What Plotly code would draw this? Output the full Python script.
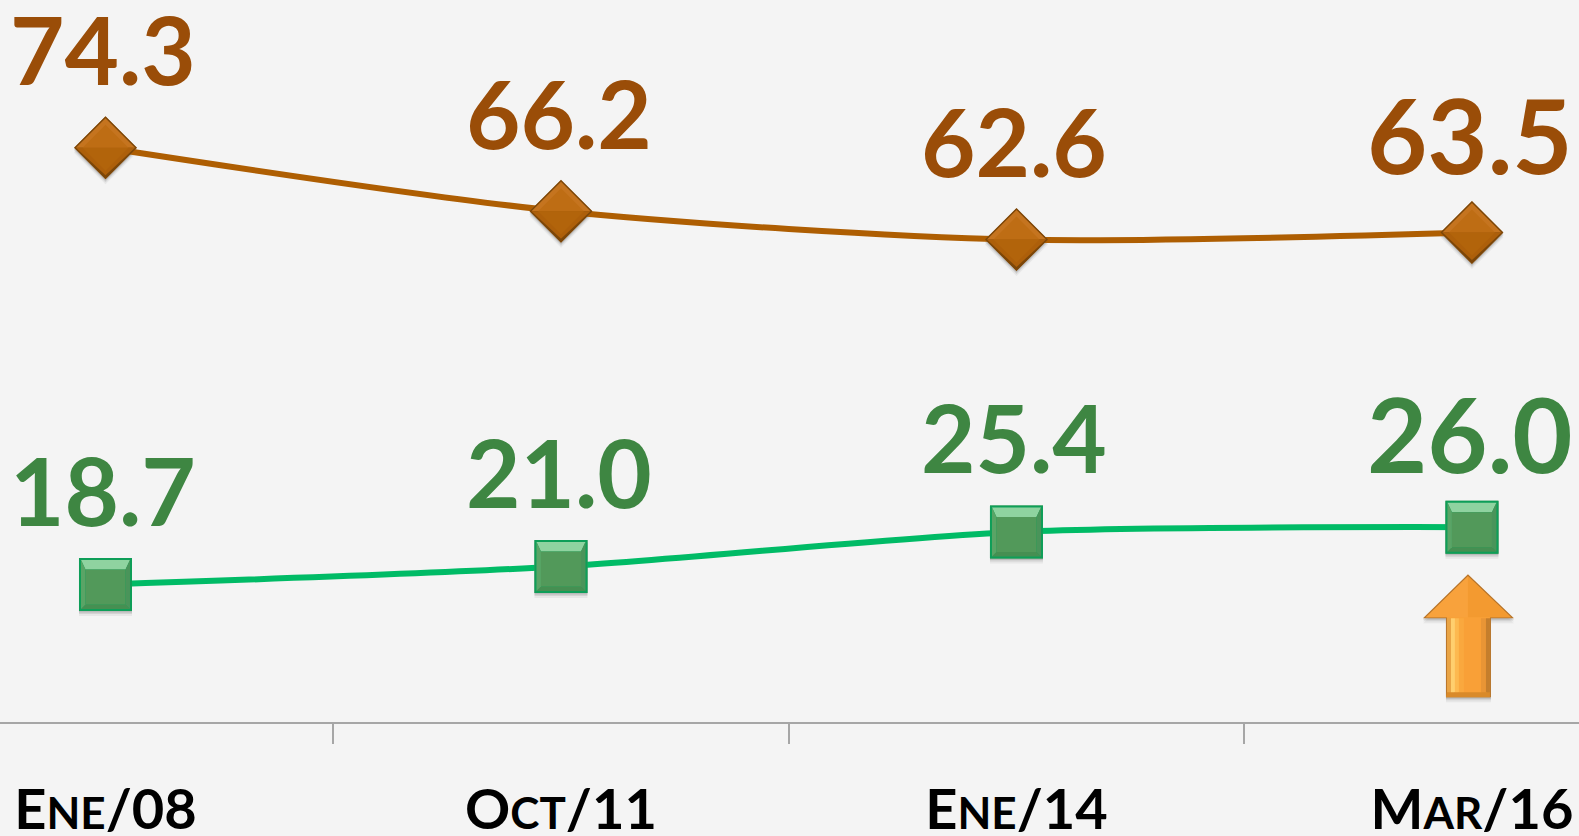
import plotly.graph_objects as go

categories = [("E", "NE", "/08"), ("O", "CT", "/11"), ("E", "NE", "/14"), ("M", "AR", "/16")]
x_index = [0, 1, 2, 3]
brown_values = [74.3, 66.2, 62.6, 63.5]
green_values = [18.7, 21.0, 25.4, 26.0]
label_sizes = [94, 94, 94, 104]
minor_ticks = [0.5, 1.5, 2.5]

BG = "#F4F4F4"
FONT = "Lato"
BROWN_LINE, BROWN_TEXT = "#AE5E02", "#9A4D08"
GREEN_LINE, GREEN_TEXT = "#00BB66", "#3E8642"


def poly(pts):
    return "M" + " L".join(f"{a},{b}" for a, b in pts) + " Z"


def pshape(x, y, pts, fill, layer="above"):
    return dict(type="path", xref="x", yref="y", xsizemode="pixel", ysizemode="pixel",
                xanchor=x, yanchor=y, path=poly(pts), fillcolor=fill,
                line=dict(width=0), layer=layer)


shapes = []
for x, y in zip(x_index, brown_values):
    r, i = 31.5, 23
    for d, a in ((5, 0.08), (3, 0.14), (1.5, 0.2)):
        shapes.append(pshape(x, y, [(-r, -d), (0, r - d), (r, -d), (0, -r - d)], f"rgba(90,90,90,{a})", "below"))
    shapes.append(pshape(x, y, [(-r, 0), (0, r), (r, 0), (0, -r)], "#7C4608"))
    shapes.append(pshape(x, y, [(-r + 2, 0), (0, r - 2), (r - 2, 0)], "#C5741F"))
    shapes.append(pshape(x, y, [(-r + 2, 0), (0, -r + 4), (r - 2, 0)], "#AD5F0A"))
    shapes.append(pshape(x, y, [(-i, 0), (0, i), (i, 0)], "#BE6D14"))
    shapes.append(pshape(x, y, [(-i, 0), (0, -i), (i, 0)], "#B2640B"))
for x, y in zip(x_index, green_values):
    h, i = 26.5, 20
    for d, a in ((5, 0.08), (3, 0.14), (1.5, 0.2)):
        shapes.append(pshape(x, y, [(-h, -h - d), (h, -h - d), (h, h - d), (-h, h - d)], f"rgba(90,90,90,{a})", "below"))
    shapes.append(pshape(x, y, [(-h, -h), (h, -h), (h, h), (-h, h)], "#0E9E58"))
    shapes.append(pshape(x, y, [(-h + 2, h - 2), (h - 2, h - 2), (i, i - 5), (-i, i - 5)], "#8FD3A0"))
    shapes.append(pshape(x, y, [(-h + 2, -h + 2), (h - 2, -h + 2), (i, -i), (-i, -i)], "#468F52"))
    shapes.append(pshape(x, y, [(-h + 2, h - 2), (-i, i - 5), (-i, -i), (-h + 2, -h + 2)], "#5AA466"))
    shapes.append(pshape(x, y, [(h - 2, h - 2), (i, i - 5), (i, -i), (h - 2, -h + 2)], "#4A945A"))
    shapes.append(pshape(x, y, [(-i, i - 5), (i, i - 5), (i, -i), (-i, -i)], "#52995A"))

# Decorative orange arrow beside the last green point
ax, ay = x_index[-1], green_values[-1]
arrow = [(-4, -47), (-49, -91), (-26, -91), (-26, -170), (19, -170), (19, -91), (42, -91)]
for d, a in ((5, 0.08), (3, 0.14), (1.5, 0.2)):
    shapes.append(pshape(ax, ay, [(p, q - d) for p, q in arrow], f"rgba(90,90,90,{a})", "below"))
shapes.append(pshape(ax, ay, arrow, "#B8752A"))
shapes.append(pshape(ax, ay, [(-4, -49), (-46, -90), (-25, -90), (-25, -168), (18, -168), (18, -90), (39, -90)], "#F9A037"))
shapes.append(pshape(ax, ay, [(-4, -49), (-46, -90), (-4, -90)], "#F8A23C"))
shapes.append(pshape(ax, ay, [(-4, -49), (39, -90), (-4, -90)], "#F39A30"))
for left, right, col in ((-25, -21, "#E9A445"), (-21, -17, "#FFCF6E"), (-17, -13, "#FDB950"), (-13, -8, "#FAA83E")):
    shapes.append(pshape(ax, ay, [(left, -91), (right, -91), (right, -165), (left, -168)], col))
for left, right, col in ((9, 14, "#E89535"), (14, 18, "#C47E2C")):
    shapes.append(pshape(ax, ay, [(left, -91), (right, -91), (right, -168), (left, -165)], col))
shapes.append(pshape(ax, ay, [(-25, -165), (18, -165), (18, -170), (-26, -170)], "#D98A2A"))

fig = go.Figure()
fig.add_trace(go.Scatter(x=x_index, y=brown_values, mode="lines+markers",
                         line=dict(color=BROWN_LINE, width=6, shape="spline", smoothing=0.8),
                         marker=dict(symbol="diamond", size=48, color="#B2640B"),
                         hoverinfo="skip", showlegend=False))
fig.add_trace(go.Scatter(x=x_index, y=green_values, mode="lines+markers",
                         line=dict(color=GREEN_LINE, width=6, shape="spline", smoothing=0.8),
                         marker=dict(symbol="square", size=53, color="#52995A"),
                         hoverinfo="skip", showlegend=False))

annotations = []
for x, y, s in zip(x_index, brown_values, label_sizes):
    annotations.append(dict(x=x, y=y, text=f"<b>{y:.1f}</b>", showarrow=False, xshift=-2, yshift=99,
                            yanchor="middle", font=dict(family=FONT, size=s, color=BROWN_TEXT)))
for x, y, s in zip(x_index, green_values, label_sizes):
    annotations.append(dict(x=x, y=y, text=f"<b>{y:.1f}</b>", showarrow=False, xshift=-2, yshift=95,
                            yanchor="middle", font=dict(family=FONT, size=s, color=GREEN_TEXT)))

ticktext = [f"<b>{a}<span style='font-size:44px'>{b}</span>{c}</b>" for a, b, c in categories]

fig.update_layout(
    width=1579, height=836, autosize=False,
    paper_bgcolor=BG, plot_bgcolor=BG,
    margin=dict(l=0, r=0, t=0, b=114),
    shapes=shapes, annotations=annotations,
    xaxis=dict(range=[-0.2316, 3.235], tickmode="array", tickvals=x_index, ticktext=ticktext,
               automargin=False,
               showgrid=False, zeroline=False, showline=True, linecolor="#A6A6A6", linewidth=2,
               ticks="outside", ticklen=38, tickcolor="rgba(0,0,0,0)", tickwidth=1,
               tickfont=dict(family=FONT, size=56, color="#000000"),
               minor=dict(tickmode="array", tickvals=minor_ticks, ticks="outside", ticklen=20,
                          tickcolor="#A6A6A6", tickwidth=2, showgrid=False)),
    yaxis=dict(range=[1.2, 93.1], visible=False, showgrid=False, zeroline=False, automargin=False),
)

fig.write_html("out.html", config=dict(displayModeBar=False),
               post_script="document.body.style.margin='0';document.body.style.overflow='hidden';")
